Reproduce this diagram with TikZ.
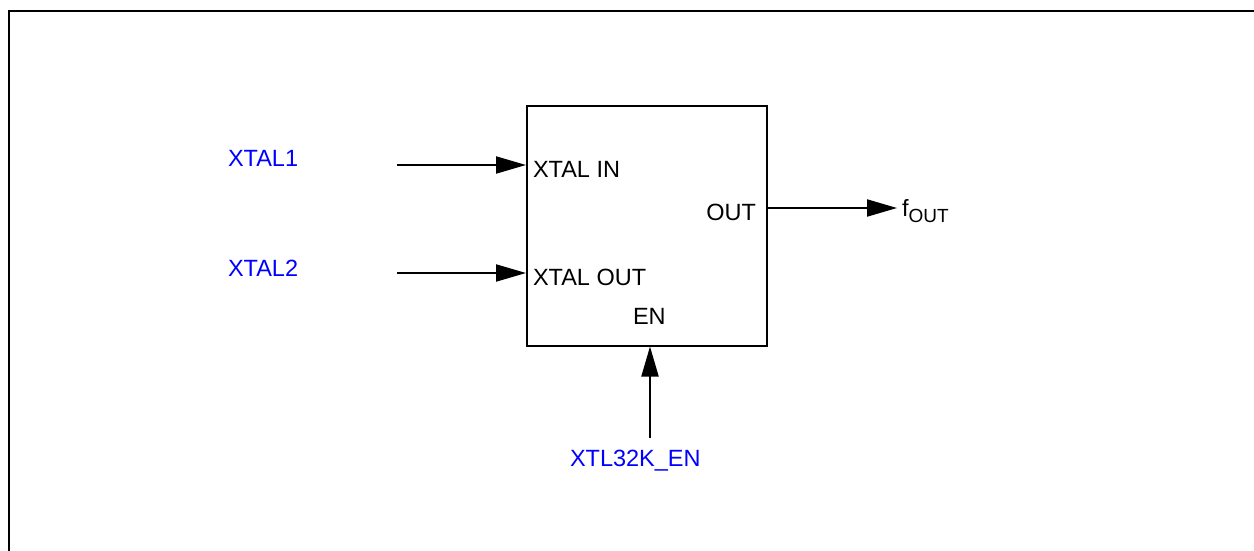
\documentclass[tikz,border=0pt]{standalone}
\usepackage{fontspec}
\setmainfont{Liberation Sans}
\usetikzlibrary{arrows.meta,positioning}
\newcommand{\subtxt}[1]{\raisebox{-6pt}{\fontsize{19pt}{19pt}\selectfont #1}}
\begin{document}
\begin{tikzpicture}[x=1pt,y=-1pt,line width=2pt,
  sig/.style={-{Triangle[length=30pt,width=17pt]}},
  pin/.style={font=\fontsize{23.5pt}{25pt}\selectfont,inner sep=0pt},
  net/.style={pin,text=blue}]
  \useasboundingbox (0,0) rectangle (1254,551);
  %moldura
  \draw[line width=2.2pt] (9,551) -- (9,11) -- (1254,11);

  %bloco do oscilador
  \node[draw,minimum width=240pt,minimum height=239pt,inner sep=0pt] (osc) at (647,226) {};
  \node[pin,anchor=base west] (xin) at (532,177) {XTAL IN};
  \node[pin,anchor=base west] (xout) at (532,285) {XTAL OUT};
  \node[pin,anchor=base east] (out) at (757,220) {OUT};
  \node[pin,anchor=base west] (en) at (632,324) {EN};

  %sinais
  \node[net,anchor=base west] (x1) at (227,166.5) {XTAL1};
  \node[net,anchor=base west] (x2) at (227,276.5) {XTAL2};
  \node[net,anchor=base west] (xen) at (569,466) {XTL32K\_EN};
  \node[pin,anchor=base west] (fout) at (901,216) {f\subtxt{OUT}};

  \coordinate (a1) at (397,165);
  \coordinate (a2) at (397,273);
  \coordinate (a3) at (650,438);
  \coordinate (a4) at (897,208);
  \draw[sig] (a1) -- (a1 -| osc.west);
  \draw[sig] (a2) -- (a2 -| osc.west);
  \draw[sig] (a3) -- (a3 |- osc.south);
  \draw[sig] (a4 -| osc.east) -- (a4);
\end{tikzpicture}
\end{document}
